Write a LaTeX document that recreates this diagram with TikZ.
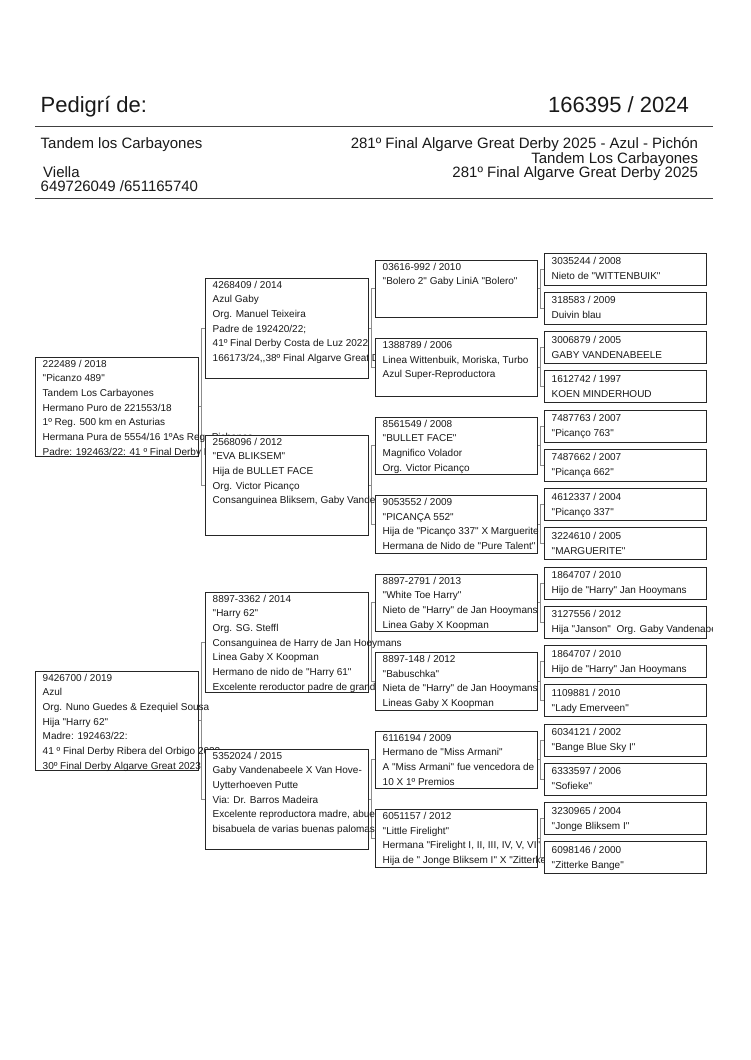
\documentclass[tikz,border=0pt]{standalone}
\usepackage{fontspec}
\setmainfont{Liberation Sans}[Ligatures=TeXOff]
\usetikzlibrary{backgrounds}
\tikzset{
  pbox/.style={draw=black!85, line width=0.9pt, fill=white, inner sep=0pt, outer sep=0pt, rectangle},
  ptext/.style={inner sep=0pt, font=\fontsize{10}{12}\selectfont, text=black!90},
  conn/.style={draw=black!45, line width=0.6pt},
  hline/.style={draw=black!75, line width=1.3pt},
  bigtxt/.style={inner sep=0pt, font=\fontsize{22}{26}\selectfont, text=black!90},
  midtxt/.style={inner sep=0pt, font=\fontsize{15}{18}\selectfont, text=black!90}
}
\newcommand\pbx[8]{%
  \node[pbox, minimum width=#4pt, minimum height=#5pt, anchor=north west] (#1) at (#2,#3) {};
  \foreach \ln [count=\i from 0] in {#8} {
    \node[ptext, anchor=base west] (#1-t\i) at ({#2+7.5},{#3+#6+\i*#7}) {\ln};
  }%
}
\newcommand\gone[3]{\pbx{#1}{35}{#2}{163}{99}{10}{14.7}{#3}}
\newcommand\gtwo[3]{\pbx{#1}{205}{#2}{163}{100}{10}{14.7}{#3}}
\newcommand\gthree[3]{\pbx{#1}{375}{#2}{162}{57.5}{10}{14.7}{#3}}
\newcommand\gfour[3]{\pbx{#1}{544}{#2}{162}{32}{11.5}{15}{#3}}
\newcommand\plink[2]{\draw[conn] (#1.east) -- ++(3.5,0) |- (#2.west);}
\begin{document}
\begin{tikzpicture}[x=1pt,y=-1pt]
\useasboundingbox (0,0) rectangle (750,1060);

% header
\node[bigtxt, anchor=base west] (title) at (40.5,112) {Pedigrí de:};
\node[bigtxt, anchor=base east] (ring) at (689,112) {166395 / 2024};
\coordinate (l1a) at (35,126.7);
\coordinate (l1b) at (713,126.7);
\draw[hline] (l1a) -- (l1b);
\node[midtxt, anchor=base west] (own) at (40.5,148.5) {Tandem los Carbayones};
\node[midtxt, anchor=base west] (town) at (43,177) {Viella};
\node[midtxt, anchor=base west] (tel) at (40.5,191.5) {649726049 /651165740};
\node[midtxt, anchor=base east] (r1) at (698.3,148.5) {281º Final Algarve Great Derby 2025 - Azul - Pichón};
\node[midtxt, anchor=base east] (r2) at (698.3,163) {Tandem Los Carbayones};
\node[midtxt, anchor=base east] (r3) at (698.3,177) {281º Final Algarve Great Derby 2025};
\coordinate (l2a) at (35,198.3);
\coordinate (l2b) at (713,198.3);
\draw[hline] (l2a) -- (l2b);

\begin{scope}
\clip (0,0) rectangle (712,1060);
% generation 1
\gone{A}{357}{{222489 / 2018},{"Picanzo 489"},{Tandem Los Carbayones},{Hermano Puro de 221553/18},{1º Reg. 500 km en Asturias},{Hermana Pura de 5554/16 1ºAs Reg. Pichones},{Padre: 192463/22: 41 º Final Derby Ribera del Orbigo 2022}}
\gone{B}{671}{{9426700 / 2019},{Azul},{Org. Nuno Guedes \& Ezequiel Sousa},{Hija "Harry 62"},{Madre: 192463/22:},{41 º Final Derby Ribera del Orbigo 2022},{30º Final Derby Algarve Great 2023}}
% generation 2
\gtwo{C1}{278}{{4268409 / 2014},{Azul Gaby},{Org. Manuel Teixeira},{Padre de 192420/22;},{41º Final Derby Costa de Luz 2022},{166173/24,,38º Final Algarve Great Derby 2025}}
\gtwo{C2}{435}{{2568096 / 2012},{"EVA BLIKSEM"},{Hija de BULLET FACE},{Org. Victor Picanço},{Consanguinea Bliksem, Gaby Vandenabeele}}
\gtwo{C3}{592}{{8897-3362 / 2014},{"Harry 62"},{Org. SG. Steffl},{Consanguinea de Harry de Jan Hooymans},{Linea Gaby X Koopman},{Hermano de nido de "Harry 61"},{Excelente reroductor padre de grandes palomas}}
\gtwo{C4}{749}{{5352024 / 2015},{Gaby Vandenabeele X Van Hove-},{Uytterhoeven Putte},{Via: Dr. Barros Madeira},{Excelente reproductora madre, abuela y},{bisabuela de varias buenas palomas}}
% generation 3
\gthree{D1}{260}{{03616-992 / 2010},{"Bolero 2" Gaby LiniA "Bolero"}}
\gthree{D2}{338.5}{{1388789 / 2006},{Linea Wittenbuik, Moriska, Turbo},{Azul Super-Reproductora}}
\gthree{D3}{417}{{8561549 / 2008},{"BULLET FACE"},{Magnifico Volador},{Org. Victor Picanço}}
\gthree{D4}{495.5}{{9053552 / 2009},{"PICANÇA 552"},{Hija de "Picanço 337" X Marguerite},{Hermana de Nido de "Pure Talent"}}
\gthree{D5}{574}{{8897-2791 / 2013},{"White Toe Harry"},{Nieto de "Harry" de Jan Hooymans},{Linea Gaby X Koopman}}
\gthree{D6}{652.5}{{8897-148 / 2012},{"Babuschka"},{Nieta de "Harry" de Jan Hooymans},{Lineas Gaby X Koopman}}
\gthree{D7}{731}{{6116194 / 2009},{Hermano de "Miss Armani"},{A "Miss Armani" fue vencedora de},{10 X 1º Premios}}
\gthree{D8}{809.5}{{6051157 / 2012},{"Little Firelight"},{Hermana "Firelight I, II, III, IV, V, VI"},{Hija de " Jonge Bliksem I" X "Zitterke Bange"}}
% generation 4
\gfour{E1}{253}{{3035244 / 2008},{Nieto de "WITTENBUIK"}}
\gfour{E2}{292.25}{{318583 / 2009},{Duivin blau}}
\gfour{E3}{331.5}{{3006879 / 2005},{GABY VANDENABEELE}}
\gfour{E4}{370.75}{{1612742 / 1997},{KOEN MINDERHOUD}}
\gfour{E5}{410}{{7487763 / 2007},{"Picanço 763"}}
\gfour{E6}{449.25}{{7487662 / 2007},{"Picança 662"}}
\gfour{E7}{488.5}{{4612337 / 2004},{"Picanço 337"}}
\gfour{E8}{527.75}{{3224610 / 2005},{"MARGUERITE"}}
\gfour{E9}{567}{{1864707 / 2010},{Hijo de "Harry" Jan Hooymans}}
\gfour{E10}{606.25}{{3127556 / 2012},{Hija "Janson"\ \ Org. Gaby Vandenabeele}}
\gfour{E11}{645.5}{{1864707 / 2010},{Hijo de "Harry" Jan Hooymans}}
\gfour{E12}{684.75}{{1109881 / 2010},{"Lady Emerveen"}}
\gfour{E13}{724}{{6034121 / 2002},{"Bange Blue Sky I"}}
\gfour{E14}{763.25}{{6333597 / 2006},{"Sofieke"}}
\gfour{E15}{802.5}{{3230965 / 2004},{"Jonge Bliksem I"}}
\gfour{E16}{841.75}{{6098146 / 2000},{"Zitterke Bange"}}
\end{scope}

\begin{pgfonlayer}{background}
\fill[white] (0,0) rectangle (750,1060);
\plink{A}{C1}\plink{A}{C2}
\plink{B}{C3}\plink{B}{C4}
\plink{C1}{D1}\plink{C1}{D2}
\plink{C2}{D3}\plink{C2}{D4}
\plink{C3}{D5}\plink{C3}{D6}
\plink{C4}{D7}\plink{C4}{D8}
\plink{D1}{E1}\plink{D1}{E2}
\plink{D2}{E3}\plink{D2}{E4}
\plink{D3}{E5}\plink{D3}{E6}
\plink{D4}{E7}\plink{D4}{E8}
\plink{D5}{E9}\plink{D5}{E10}
\plink{D6}{E11}\plink{D6}{E12}
\plink{D7}{E13}\plink{D7}{E14}
\plink{D8}{E15}\plink{D8}{E16}
\end{pgfonlayer}
\end{tikzpicture}
\end{document}
